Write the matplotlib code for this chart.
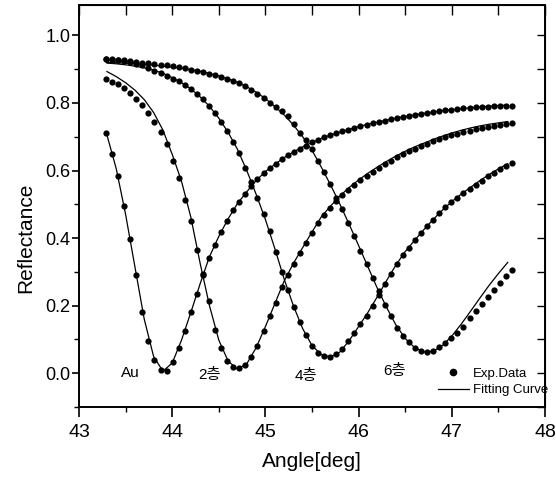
import matplotlib
matplotlib.use('Agg')
import matplotlib.pyplot as plt
from matplotlib.lines import Line2D
from matplotlib.ticker import MultipleLocator

plt.rcParams['font.family'] = ['Liberation Sans', 'Noto Sans CJK KR']

# measured angles (deg) for the experimental points
angle = [43.290, 43.355, 43.420, 43.485, 43.550, 43.615, 43.680, 43.745, 43.810, 43.875,
         43.940, 44.005, 44.070, 44.135, 44.200, 44.265, 44.330, 44.395, 44.460, 44.525,
         44.590, 44.655, 44.720, 44.785, 44.850, 44.915, 44.980, 45.045, 45.110, 45.175,
         45.240, 45.305, 45.370, 45.435, 45.500, 45.565, 45.630, 45.695, 45.760, 45.825,
         45.890, 45.955, 46.020, 46.085, 46.150, 46.215, 46.280, 46.345, 46.410, 46.475,
         46.540, 46.605, 46.670, 46.735, 46.800, 46.865, 46.930, 46.995, 47.060, 47.125,
         47.190, 47.255, 47.320, 47.385, 47.450, 47.515, 47.580, 47.645]

exp_au = [0.712, 0.650, 0.585, 0.495, 0.398, 0.290, 0.180, 0.095, 0.040, 0.010,
          0.008, 0.032, 0.075, 0.125, 0.180, 0.235, 0.290, 0.342, 0.380, 0.418,
          0.450, 0.482, 0.508, 0.530, 0.553, 0.574, 0.592, 0.607, 0.620, 0.633,
          0.645, 0.655, 0.665, 0.674, 0.683, 0.691, 0.698, 0.704, 0.710, 0.716,
          0.721, 0.726, 0.731, 0.736, 0.740, 0.744, 0.748, 0.752, 0.755, 0.759,
          0.762, 0.765, 0.768, 0.771, 0.773, 0.776, 0.778, 0.780, 0.782, 0.784,
          0.785, 0.787, 0.788, 0.789, 0.790, 0.791, 0.792, 0.792]

exp_2 = [0.872, 0.863, 0.855, 0.844, 0.830, 0.812, 0.793, 0.770, 0.744, 0.714,
         0.678, 0.627, 0.578, 0.512, 0.450, 0.365, 0.295, 0.215, 0.127, 0.075,
         0.037, 0.018, 0.016, 0.025, 0.048, 0.082, 0.125, 0.168, 0.207, 0.255,
         0.290, 0.322, 0.355, 0.386, 0.415, 0.445, 0.468, 0.488, 0.510, 0.527,
         0.543, 0.558, 0.572, 0.585, 0.597, 0.608, 0.619, 0.629, 0.639, 0.648,
         0.657, 0.665, 0.673, 0.680, 0.687, 0.693, 0.699, 0.704, 0.709, 0.714,
         0.718, 0.722, 0.726, 0.729, 0.732, 0.735, 0.738, 0.740]

exp_4 = [0.930, 0.928, 0.926, 0.923, 0.920, 0.916, 0.911, 0.903, 0.896, 0.889,
         0.881, 0.872, 0.864, 0.853, 0.841, 0.828, 0.812, 0.792, 0.770, 0.745,
         0.718, 0.685, 0.652, 0.608, 0.565, 0.520, 0.470, 0.420, 0.358, 0.300,
         0.245, 0.195, 0.152, 0.113, 0.080, 0.060, 0.050, 0.048, 0.058, 0.073,
         0.095, 0.120, 0.145, 0.168, 0.198, 0.233, 0.265, 0.295, 0.324, 0.350,
         0.370, 0.393, 0.414, 0.435, 0.455, 0.474, 0.492, 0.507, 0.520, 0.533,
         0.545, 0.558, 0.570, 0.583, 0.594, 0.605, 0.614, 0.623]

exp_6 = [0.930, 0.929, 0.928, 0.926, 0.923, 0.921, 0.919, 0.917, 0.915, 0.913,
         0.911, 0.909, 0.906, 0.903, 0.899, 0.896, 0.892, 0.887, 0.882, 0.877,
         0.872, 0.866, 0.859, 0.850, 0.838, 0.826, 0.814, 0.800, 0.788, 0.776,
         0.760, 0.738, 0.712, 0.690, 0.663, 0.628, 0.595, 0.560, 0.520, 0.485,
         0.445, 0.405, 0.363, 0.323, 0.283, 0.243, 0.203, 0.170, 0.135, 0.110,
         0.092, 0.075, 0.065, 0.062, 0.066, 0.078, 0.090, 0.105, 0.118, 0.138,
         0.162, 0.183, 0.205, 0.226, 0.246, 0.267, 0.287, 0.305]

# fitting curves, read every 0.1 deg
fit_angle = [43.3, 43.4, 43.5, 43.6, 43.7, 43.8, 43.9, 44.0, 44.1, 44.2, 44.3,
             44.4, 44.5, 44.6, 44.7, 44.8, 44.9, 45.0, 45.1, 45.2, 45.3, 45.4,
             45.5, 45.6, 45.7, 45.8, 45.9, 46.0, 46.1, 46.2, 46.3, 46.4, 46.5,
             46.6, 46.7, 46.8, 46.9, 47.0, 47.1, 47.2, 47.3, 47.4, 47.5, 47.6]

fit_au = [0.705, 0.605, 0.470, 0.315, 0.160, 0.050, 0.006, 0.030, 0.098, 0.180, 0.265,
          0.345, 0.405, 0.457, 0.502, 0.537, 0.570, 0.597, 0.618, 0.638, 0.655, 0.670,
          0.683, 0.695, 0.705, 0.714, 0.722, 0.730, 0.737, 0.743, 0.749, 0.755, 0.760,
          0.765, 0.769, 0.773, 0.777, 0.780, 0.783, 0.786, 0.788, 0.790, 0.792, 0.794]

fit_2 = [0.893, 0.878, 0.860, 0.838, 0.810, 0.772, 0.720, 0.648, 0.568, 0.462, 0.325,
         0.200, 0.098, 0.036, 0.012, 0.028, 0.075, 0.138, 0.205, 0.272, 0.325, 0.372,
         0.418, 0.463, 0.495, 0.525, 0.550, 0.572, 0.592, 0.610, 0.627, 0.643, 0.657,
         0.670, 0.681, 0.692, 0.702, 0.711, 0.719, 0.726, 0.732, 0.737, 0.741, 0.745]

fit_4 = [0.918, 0.916, 0.913, 0.909, 0.904, 0.897, 0.888, 0.875, 0.860, 0.842, 0.818,
         0.790, 0.755, 0.713, 0.663, 0.600, 0.530, 0.455, 0.370, 0.280, 0.200, 0.132,
         0.082, 0.055, 0.048, 0.063, 0.097, 0.138, 0.180, 0.226, 0.274, 0.320, 0.360,
         0.393, 0.425, 0.455, 0.483, 0.508, 0.530, 0.550, 0.570, 0.588, 0.605, 0.620]

fit_6 = [0.920, 0.919, 0.918, 0.916, 0.914, 0.912, 0.909, 0.906, 0.903, 0.899, 0.894,
         0.887, 0.880, 0.871, 0.861, 0.848, 0.832, 0.813, 0.790, 0.765, 0.735, 0.700,
         0.660, 0.610, 0.557, 0.500, 0.440, 0.378, 0.315, 0.252, 0.195, 0.143, 0.103,
         0.076, 0.063, 0.065, 0.082, 0.110, 0.145, 0.183, 0.222, 0.260, 0.295, 0.328]

curve_names = ['Au', '2층', '4층', '6층']
name_x = [43.55, 44.40, 45.43, 46.39]
name_y = [0.0, -0.005, -0.008, 0.008]

fig = plt.figure(figsize=(5.56, 4.82), dpi=100)
ax = fig.add_axes([79/556, 1 - 407/482, 466/556, 402/482])

for ys in [exp_au, exp_2, exp_4, exp_6]:
    ax.plot(angle, ys, 'o', color='black', markersize=4.5, markeredgewidth=0)
for ys in [fit_au, fit_2, fit_4, fit_6]:
    ax.plot(fit_angle, ys, '-', color='black', linewidth=0.9)

for name, tx, ty in zip(curve_names, name_x, name_y):
    ax.text(tx, ty, name, fontsize=11, ha='center', va='center')

ax.set_xlim(43, 48)
ax.set_ylim(-0.1, 1.09)
ax.xaxis.set_major_locator(MultipleLocator(1))
ax.xaxis.set_minor_locator(MultipleLocator(0.5))
ax.yaxis.set_minor_locator(MultipleLocator(0.1))
ax.set_yticks([0.0, 0.2, 0.4, 0.6, 0.8, 1.0])
ax.set_yticklabels(['0.0', '0.2', '0.4', '0.6', '0.8', '1.0'])
ax.tick_params(which='major', direction='out', length=5, width=1.2, labelsize=13, pad=1)
ax.tick_params(axis='x', which='major', length=7, pad=5, labelsize=14)
ax.tick_params(which='minor', direction='out', length=3.5, width=1.0)
for sp in ax.spines.values():
    sp.set_linewidth(1.4)

# top and right: ticks pointing in, no labels
top = ax.secondary_xaxis('top')
top.xaxis.set_major_locator(MultipleLocator(0.5))
top.tick_params(direction='in', length=7, width=1.0, labeltop=False)
right = ax.secondary_yaxis('right')
right.yaxis.set_major_locator(MultipleLocator(0.1))
right.tick_params(direction='in', length=6, width=1.0, labelright=False)

ax.set_xlabel('Angle[deg]', fontsize=15)
ax.xaxis.set_label_coords(0.5, -0.135)
ax.xaxis.label.set_verticalalignment('center')
ax.set_ylabel('Reflectance', fontsize=15)
ax.yaxis.set_label_coords(-0.115, 0.42)
ax.yaxis.label.set_verticalalignment('center')

handles = [Line2D([], [], marker='o', linestyle='none', color='black', markersize=4.5),
           Line2D([], [], color='black', linewidth=0.9)]
ax.legend(handles, ['Exp.Data', 'Fitting Curve'], loc='lower right',
          bbox_to_anchor=(1.03, 0.0), frameon=False, fontsize=9.5,
          handlelength=2.4, handletextpad=0.3, labelspacing=0.35, borderaxespad=0.4)

plt.savefig('out.png', dpi=100)
